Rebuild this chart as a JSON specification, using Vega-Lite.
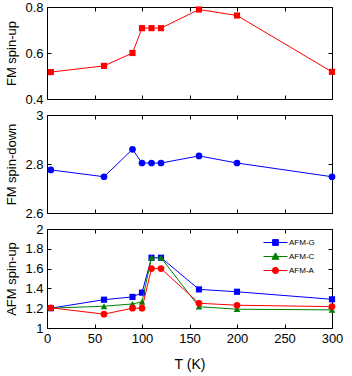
{
  "$schema": "https://vega.github.io/schema/vega-lite/v6.json",
  "padding": {"left": 5, "top": 0, "right": 5, "bottom": 5},
  "background": "white",
  "config": {
    "font": "Liberation Sans",
    "view": {"stroke": "black", "strokeWidth": 1},
    "axis": {
      "grid": false,
      "domain": false,
      "ticks": true,
      "tickColor": "black",
      "tickSize": 4,
      "offset": -4,
      "labelFlush": false,
      "labelFont": "Liberation Sans",
      "labelFontSize": 13,
      "labelColor": "black",
      "labelPadding": 4,
      "titleFont": "Liberation Sans",
      "titleFontSize": 13,
      "titleFontWeight": "normal",
      "titleColor": "black",
      "titlePadding": 6
    }
  },
  "datasets": {
    "fm": [
      {"T": 4, "up": 0.517, "down": 2.776},
      {"T": 60, "up": 0.544, "down": 2.748},
      {"T": 90, "up": 0.600, "down": 2.860},
      {"T": 100, "up": 0.708, "down": 2.804},
      {"T": 110, "up": 0.708, "down": 2.804},
      {"T": 120, "up": 0.708, "down": 2.804},
      {"T": 160, "up": 0.789, "down": 2.833},
      {"T": 200, "up": 0.763, "down": 2.804},
      {"T": 300, "up": 0.518, "down": 2.748}
    ],
    "afm": [
      {"T": 4, "series": "AFM-G", "value": 1.20},
      {"T": 60, "series": "AFM-G", "value": 1.286},
      {"T": 90, "series": "AFM-G", "value": 1.314},
      {"T": 100, "series": "AFM-G", "value": 1.357},
      {"T": 110, "series": "AFM-G", "value": 1.71},
      {"T": 120, "series": "AFM-G", "value": 1.71},
      {"T": 160, "series": "AFM-G", "value": 1.39},
      {"T": 200, "series": "AFM-G", "value": 1.366},
      {"T": 300, "series": "AFM-G", "value": 1.29},
      {"T": 4, "series": "AFM-C", "value": 1.20},
      {"T": 60, "series": "AFM-C", "value": 1.22},
      {"T": 90, "series": "AFM-C", "value": 1.243},
      {"T": 100, "series": "AFM-C", "value": 1.264},
      {"T": 110, "series": "AFM-C", "value": 1.71},
      {"T": 120, "series": "AFM-C", "value": 1.71},
      {"T": 160, "series": "AFM-C", "value": 1.215},
      {"T": 200, "series": "AFM-C", "value": 1.19},
      {"T": 300, "series": "AFM-C", "value": 1.183},
      {"T": 4, "series": "AFM-A", "value": 1.204},
      {"T": 60, "series": "AFM-A", "value": 1.14},
      {"T": 90, "series": "AFM-A", "value": 1.20},
      {"T": 100, "series": "AFM-A", "value": 1.20},
      {"T": 110, "series": "AFM-A", "value": 1.60},
      {"T": 120, "series": "AFM-A", "value": 1.60},
      {"T": 160, "series": "AFM-A", "value": 1.25},
      {"T": 200, "series": "AFM-A", "value": 1.23},
      {"T": 300, "series": "AFM-A", "value": 1.216}
    ]
  },
  "spacing": 16,
  "bounds": "flush",
  "resolve": {"legend": {"color": "independent", "stroke": "independent", "shape": "independent"}},
  "vconcat": [
    {
      "width": 285,
      "height": 92,
      "data": {"name": "fm"},
      "layer": [
        {
          "mark": {"type": "line", "color": "#ff0000", "strokeWidth": 1,
                   "point": {"shape": "square", "size": 38, "filled": true, "color": "#ff0000", "opacity": 1}},
          "encoding": {
            "x": {"field": "T", "type": "quantitative", "scale": {"domain": [0, 300], "nice": false},
                  "axis": {"labels": false, "title": null, "values": [0, 50, 100, 150, 200, 250, 300]}},
            "y": {"field": "up", "type": "quantitative", "scale": {"domain": [0.4, 0.8], "nice": false, "zero": false},
                  "axis": {"title": "FM spin-up", "values": [0.4, 0.6, 0.8], "format": "~g"}}
          }
        },
        {
          "mark": {"type": "point", "opacity": 0},
          "encoding": {
            "x": {"field": "T", "type": "quantitative",
                  "axis": {"orient": "top", "labels": false, "title": null, "values": [0, 50, 100, 150, 200, 250, 300]}},
            "y": {"field": "up", "type": "quantitative",
                  "axis": {"orient": "right", "labels": false, "title": null, "values": [0.4, 0.6, 0.8]}}
          }
        }
      ],
      "resolve": {"axis": {"x": "independent", "y": "independent"}}
    },
    {
      "width": 285,
      "height": 98,
      "data": {"name": "fm"},
      "layer": [
        {
          "mark": {"type": "line", "color": "#0000ff", "strokeWidth": 1,
                   "point": {"shape": "circle", "size": 45, "filled": true, "color": "#0000ff", "opacity": 1}},
          "encoding": {
            "x": {"field": "T", "type": "quantitative", "scale": {"domain": [0, 300], "nice": false},
                  "axis": {"labels": false, "title": null, "values": [0, 50, 100, 150, 200, 250, 300]}},
            "y": {"field": "down", "type": "quantitative", "scale": {"domain": [2.6, 3.0], "nice": false, "zero": false},
                  "axis": {"title": "FM spin-down", "values": [2.6, 2.8, 3.0], "format": "~g"}}
          }
        },
        {
          "mark": {"type": "point", "opacity": 0},
          "encoding": {
            "x": {"field": "T", "type": "quantitative",
                  "axis": {"orient": "top", "labels": false, "title": null, "values": [0, 50, 100, 150, 200, 250, 300]}},
            "y": {"field": "down", "type": "quantitative",
                  "axis": {"orient": "right", "labels": false, "title": null, "values": [2.6, 2.8, 3.0]}}
          }
        }
      ],
      "resolve": {"axis": {"x": "independent", "y": "independent"}}
    },
    {
      "width": 285,
      "height": 99,
      "data": {"name": "afm"},
      "layer": [
        {
          "transform": [{"filter": "datum.series == 'AFM-G'"}],
          "mark": {"type": "line", "color": "#0000ff", "strokeWidth": 1,
                   "point": {"shape": "square", "size": 38, "filled": true, "color": "#0000ff", "opacity": 1}},
          "encoding": {
            "x": {"field": "T", "type": "quantitative", "scale": {"domain": [0, 300], "nice": false},
                  "axis": {"title": "T (K)", "titleFontSize": 14, "titlePadding": 12, "values": [0, 50, 100, 150, 200, 250, 300], "labelPadding": 4}},
            "y": {"field": "value", "type": "quantitative", "scale": {"domain": [1, 2], "nice": false, "zero": false},
                  "axis": {"title": "AFM spin-up", "values": [1, 1.2, 1.4, 1.6, 1.8, 2], "format": "~g"}}
          }
        },
        {
          "transform": [{"filter": "datum.series == 'AFM-C'"}],
          "mark": {"type": "line", "color": "#008000", "strokeWidth": 1,
                   "point": {"shape": "triangle-up", "size": 45, "filled": true, "color": "#008000", "opacity": 1}},
          "encoding": {
            "x": {"field": "T", "type": "quantitative", "axis": null},
            "y": {"field": "value", "type": "quantitative", "axis": null}
          }
        },
        {
          "transform": [{"filter": "datum.series == 'AFM-A'"}],
          "mark": {"type": "line", "color": "#ff0000", "strokeWidth": 1,
                   "point": {"shape": "circle", "size": 45, "filled": true, "color": "#ff0000", "opacity": 1}},
          "encoding": {
            "x": {"field": "T", "type": "quantitative", "axis": null},
            "y": {"field": "value", "type": "quantitative", "axis": null}
          }
        },
        {
          "transform": [{"filter": "datum.T < 0"}],
          "mark": {"type": "point", "filled": true, "opacity": 1},
          "encoding": {
            "x": {"field": "T", "type": "quantitative",
                  "axis": {"orient": "top", "labels": false, "title": null, "values": [0, 50, 100, 150, 200, 250, 300]}},
            "y": {"field": "value", "type": "quantitative",
                  "axis": {"orient": "right", "labels": false, "title": null, "values": [1, 1.2, 1.4, 1.6, 1.8, 2]}},
            "color": {"field": "series", "type": "nominal",
                      "scale": {"domain": ["AFM-G", "AFM-C", "AFM-A"], "range": ["#0000ff", "#008000", "#ff0000"]},
                      "legend": {"title": null, "orient": "none", "legendX": 220, "legendY": 5, "padding": 0,
                                 "labelFont": "Liberation Sans", "labelFontSize": 8, "labelColor": "black",
                                 "labelOffset": 5, "rowPadding": -1.5, "symbolSize": 256, "symbolStrokeWidth": 1,
                                 "symbolOpacity": 1}},
            "stroke": {"field": "series", "type": "nominal",
                      "scale": {"domain": ["AFM-G", "AFM-C", "AFM-A"], "range": ["#0000ff", "#008000", "#ff0000"]}},
            "shape": {"field": "series", "type": "nominal",
                      "scale": {"domain": ["AFM-G", "AFM-C", "AFM-A"],
                                "range": ["M-1.5,0H1.5M-0.36,-0.36H0.36V0.36H-0.36Z",
                                          "M-1.5,0H1.5M0,-0.45L0.44,0.34H-0.44Z",
                                          "M-1.5,0H1.5M0.4,0A0.4,0.4,0,1,1,-0.4,0A0.4,0.4,0,1,1,0.4,0Z"]}},
            "size": {"value": 256}
          }
        }
      ],
      "resolve": {"axis": {"x": "independent", "y": "independent"}}
    }
  ]
}
